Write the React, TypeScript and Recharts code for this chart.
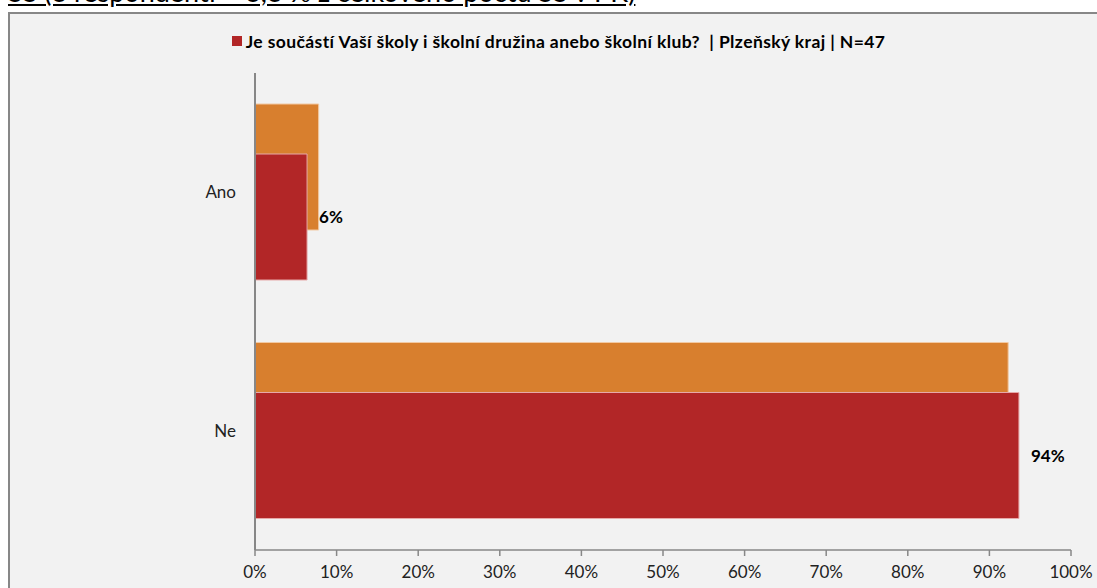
import React from 'react';
import { BarChart, Bar, XAxis, YAxis, Legend, LabelList } from 'recharts';

const categories = ['Ano', 'Ne'];
const seriesPrevious = [7.8, 92.3];
const seriesCurrent = [6.38, 93.62];
const xTicks = [0, 10, 20, 30, 40, 50, 60, 70, 80, 90, 100];
const boundaryTicks = [0, 1, 2];
const legendLabel = 'Je součástí Vaší školy i školní družina anebo školní klub?  | Plzeňský kraj | N=47';
const headingText = 'SŠ (3 respondenti = 6,3 % z celkového počtu SŠ v PK)';

const data = categories.map((c, i) => ({
  category: c,
  previous: seriesPrevious[i],
  current: seriesCurrent[i],
}));

const FONT = 'Lato, "Open Sans", sans-serif';
const AXIS = '#878787';

const renderLegend = (props: any) => {
  const items = (props.payload || []).filter((p: any) => p.type !== 'none');
  return (
    <div style={{ textAlign: 'center', fontFamily: FONT, fontWeight: 700, fontSize: 17.5, letterSpacing: 0.4, color: '#000', whiteSpace: 'pre' }}>
      {items.map((it: any, i: number) => (
        <span key={i}>
          <span style={{ display: 'inline-block', width: 10, height: 10, background: it.color, marginRight: 4, verticalAlign: 'middle', position: 'relative', top: -1 }} />
          <span style={{ verticalAlign: 'middle' }}>{it.value}</span>
        </span>
      ))}
    </div>
  );
};

export default function App() {
  return (
    <div style={{ position: 'fixed', left: 0, top: 0, width: 1097, height: 588, overflow: 'hidden', background: '#fff' }}>
      <div style={{ position: 'absolute', left: 8, top: -22, fontFamily: FONT, fontSize: 27, lineHeight: '28px', textDecoration: 'underline', whiteSpace: 'nowrap', color: '#000' }}>
        {headingText}
      </div>
      <div style={{ position: 'absolute', left: 8, top: 12, width: 1130, height: 620, boxSizing: 'border-box', border: '2px solid #878787', background: '#f2f2f2' }} />
      <div style={{ position: 'absolute', left: 0, top: 0 }}>
        <BarChart
          width={1097}
          height={588}
          data={data}
          layout="vertical"
          margin={{ top: 73, right: 26, bottom: 8, left: 195 }}
          barSize={126}
          barGap={-76}
        >
          <XAxis
            xAxisId="x"
            type="number"
            domain={[0, 100]}
            ticks={xTicks}
            interval={0}
            height={30}
            tickFormatter={(v: number) => `${v}%`}
            axisLine={{ stroke: AXIS, strokeWidth: 1.5 }}
            tickLine={{ stroke: AXIS, strokeWidth: 1.5 }}
            tickSize={6}
            tickMargin={10}
            tick={{ fill: '#222', fontFamily: FONT, fontSize: 17 }}
          />
          <YAxis
            yAxisId="bounds"
            type="number"
            domain={[0, 2]}
            ticks={boundaryTicks}
            width={1}
            tick={false}
            tickSize={6}
            axisLine={{ stroke: AXIS, strokeWidth: 2 }}
            tickLine={{ stroke: AXIS, strokeWidth: 1.5 }}
          />
          <YAxis
            yAxisId="cat"
            type="category"
            dataKey="category"
            width={59}
            axisLine={false}
            tickLine={false}
            tickSize={0}
            tickMargin={18}
            tick={{ fill: '#222', fontFamily: FONT, fontSize: 17 }}
          />
          <Legend
            verticalAlign="middle"
            align="center"
            layout="horizontal"
            wrapperStyle={{ top: 29, left: 10, width: 1097 }}
            content={renderLegend}
          />
          <Bar
            xAxisId="x"
            yAxisId="cat"
            dataKey="previous"
            name="previous"
            fill="#d87f2e"
            stroke="#f2c9a3"
            strokeWidth={1}
            legendType="none"
            isAnimationActive={false}
          />
          <Bar
            xAxisId="x"
            yAxisId="cat"
            dataKey="current"
            name={legendLabel}
            fill="#b22627"
            stroke="#e6a9a9"
            strokeWidth={1}
            legendType="square"
            isAnimationActive={false}
          >
            <LabelList
              dataKey="current"
              position="right"
              offset={12}
              formatter={(v: any) => `${Math.round(Number(v))}%`}
              style={{ fill: '#000', fontFamily: FONT, fontWeight: 700, fontSize: 17 }}
            />
          </Bar>
        </BarChart>
      </div>
    </div>
  );
}
